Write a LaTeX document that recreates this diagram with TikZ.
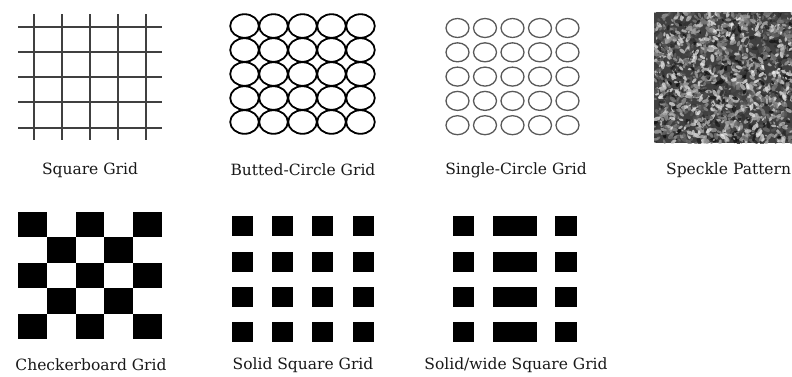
\documentclass[tikz,border=0pt]{standalone}
\usepackage{fontspec}
\setmainfont{DejaVu Serif}
\begin{document}
\begin{tikzpicture}[x=1pt,y=-1pt,
  lbl/.style={inner sep=0pt,font=\fontsize{15.5}{18}\selectfont,text=black!90},
  gridline/.style={draw=black!75,line width=2.2pt},
  butted/.style={draw=black,line width=1.8pt},
  single/.style={draw=black!65,line width=1.3pt},
  blk/.style={fill=black}]
\useasboundingbox (0,0) rectangle (792,376);
\fill[white] (0,0) rectangle (792,376);
% Square grid
\foreach \y in {27,52,77,102,128} \draw[gridline] (18,\y) -- (162,\y);
\foreach \x in {34,62,90,118,146} \draw[gridline] (\x,14) -- (\x,140);
\node[lbl] (l1) at (90,170) {Square Grid};
% Butted circles
\foreach \i in {0,...,4} \foreach \j in {0,...,4}
  \draw[butted] (244.5+29*\i,26+24*\j) ellipse [x radius=14.3, y radius=11.8];
\node[lbl] (l2) at (303,170) {Butted-Circle Grid};
% Single circles
\foreach \i in {0,...,4} \foreach \j in {0,...,4}
  \draw[single] (457.5+27.5*\i,28+24.3*\j) ellipse [x radius=11.5, y radius=9.5];
\node[lbl] (l3) at (516,170) {Single-Circle Grid};
% Speckle
\begin{scope}
\clip (654,12) rectangle (792,143);
\fill[black!75] (654,12) rectangle (792,143);
\pgfmathsetseed{11}
\foreach \k in {1,...,1800}{
  \pgfmathsetmacro{\px}{654+138*rnd}
  \pgfmathsetmacro{\py}{12+131*rnd}
  \pgfmathtruncatemacro{\gv}{5+92*rnd}
  \pgfmathsetmacro{\rr}{1.0+1.8*rnd}
  \pgfmathsetmacro{\ang}{180*rnd}
  \fill[black!\gv,opacity=0.75,rotate around={\ang:(\px,\py)}] (\px,\py) ellipse [x radius=\rr*1.5, y radius=\rr*0.75];
}
\end{scope}
\node[lbl,anchor=west] (l4) at (666,170) {Speckle Pattern};
% Checkerboard
\foreach \i in {0,...,4} \foreach \j in {0,...,4}{
  \pgfmathtruncatemacro{\pv}{mod(\i+\j,2)}
  \ifnum\pv=0
    \fill[blk] (18+28.8*\i,212+25.4*\j) rectangle ++(28.8,25.4);
  \fi
}
\node[lbl] (l5) at (91,365) {Checkerboard Grid};
% Solid squares
\foreach \x in {232,272,312,353} \foreach \y in {216,252,287,322}
  \fill[blk] (\x,\y) rectangle ++(21,19.5);
\node[lbl] (l6) at (303,365) {Solid Square Grid};
% Solid/wide
\foreach \y in {216,252,287,322}{
  \fill[blk] (453,\y) rectangle ++(21,19.5);
  \fill[blk] (493,\y) rectangle ++(44,19.5);
  \fill[blk] (555,\y) rectangle ++(22,19.5);
}
\node[lbl] (l7) at (516,365) {Solid/wide Square Grid};
\end{tikzpicture}
\end{document}
